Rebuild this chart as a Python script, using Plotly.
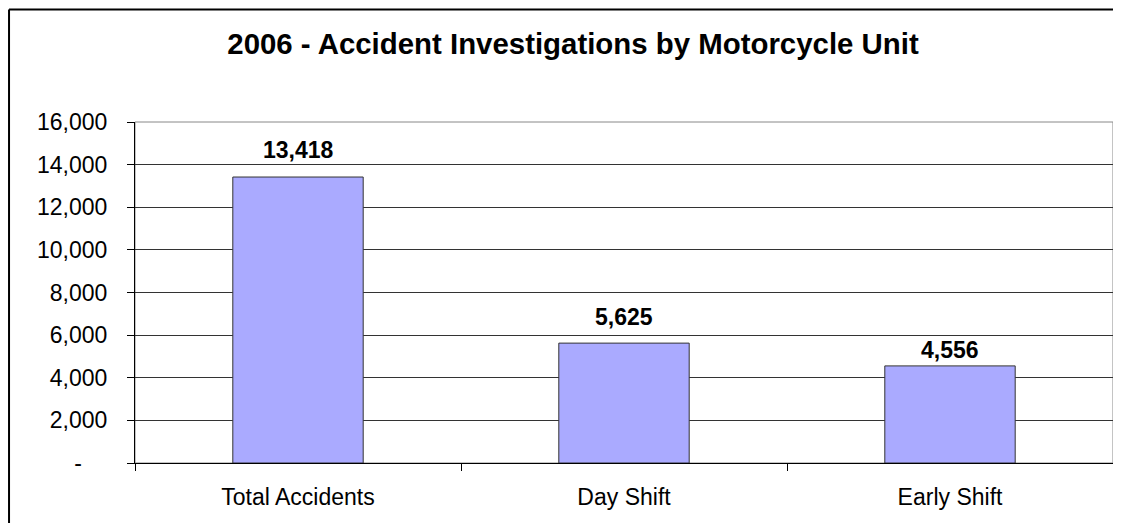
import plotly.graph_objects as go

categories = ['Total Accidents', 'Day Shift', 'Early Shift']
values = [13418, 5625, 4556]
y_ticks = [0, 2000, 4000, 6000, 8000, 10000, 12000, 14000, 16000]
y_tick_text = ['-' + '\u00a0' * 4] + ['{:,}'.format(v) for v in y_ticks[1:]]

font_family = 'Liberation Sans, Arial, sans-serif'

# the page body has an 8px margin on each side; keep the figure inside the window
W, H = 1121 - 16, 531 - 16

fig = go.Figure()
fig.add_trace(go.Bar(
    x=categories, y=values,
    marker=dict(color='#AAAAFF', line=dict(color='#333333', width=1)),
    hoverinfo='x+y'
))

# value labels above the bars (Excel placed the last one a little lower)
label_shift = [27, 26, 16]
for c, v, s in zip(categories, values, label_shift):
    fig.add_annotation(x=c, y=v, text='<b>{:,}</b>'.format(v), showarrow=False,
                       yanchor='middle', yshift=s,
                       font=dict(family=font_family, size=23, color='black'))

# plot area border (gray) and chart border (black), the chart border runs off the right/bottom
fig.add_shape(type='rect', xref='paper', yref='paper', x0=0, y0=0, x1=1, y1=1,
              line=dict(color='#888888', width=1), layer='below')
fig.add_shape(type='line', xref='paper', yref='paper', x0=-0.1288, y0=-0.5, x1=-0.1288, y1=1.3299,
              line=dict(color='black', width=2))
fig.add_shape(type='line', xref='paper', yref='paper', x0=-0.1288, y0=1.3299, x1=1.5, y1=1.3299,
              line=dict(color='black', width=2))

fig.update_layout(
    width=W, height=H,
    margin=dict(l=127, r=0, t=114, b=60),
    paper_bgcolor='white', plot_bgcolor='white',
    bargap=0.6, showlegend=False,
    font=dict(family=font_family, color='black'),
    title=dict(text='<b>2006 - Accident Investigations by Motorcycle Unit</b>',
               x=565 / W, xanchor='center', xref='container',
               y=1 - 36 / H, yanchor='middle', yref='container',
               font=dict(family=font_family, size=29.4, color='black')),
)
fig.update_xaxes(type='category', tickson='boundaries', ticks='outside', ticklen=7,
                 tickcolor='black', showline=True, linecolor='black', linewidth=1,
                 showgrid=False, tickfont=dict(size=23), ticklabelstandoff=13)
fig.update_yaxes(range=[0, 16000], tickvals=y_ticks, ticktext=y_tick_text,
                 ticks='outside', ticklen=7, tickcolor='black',
                 showline=True, linecolor='black', linewidth=1,
                 showgrid=True, gridcolor='#333333', gridwidth=1,
                 zeroline=False, tickfont=dict(size=23), ticklabelstandoff=15)

fig.write_html('out.html')
